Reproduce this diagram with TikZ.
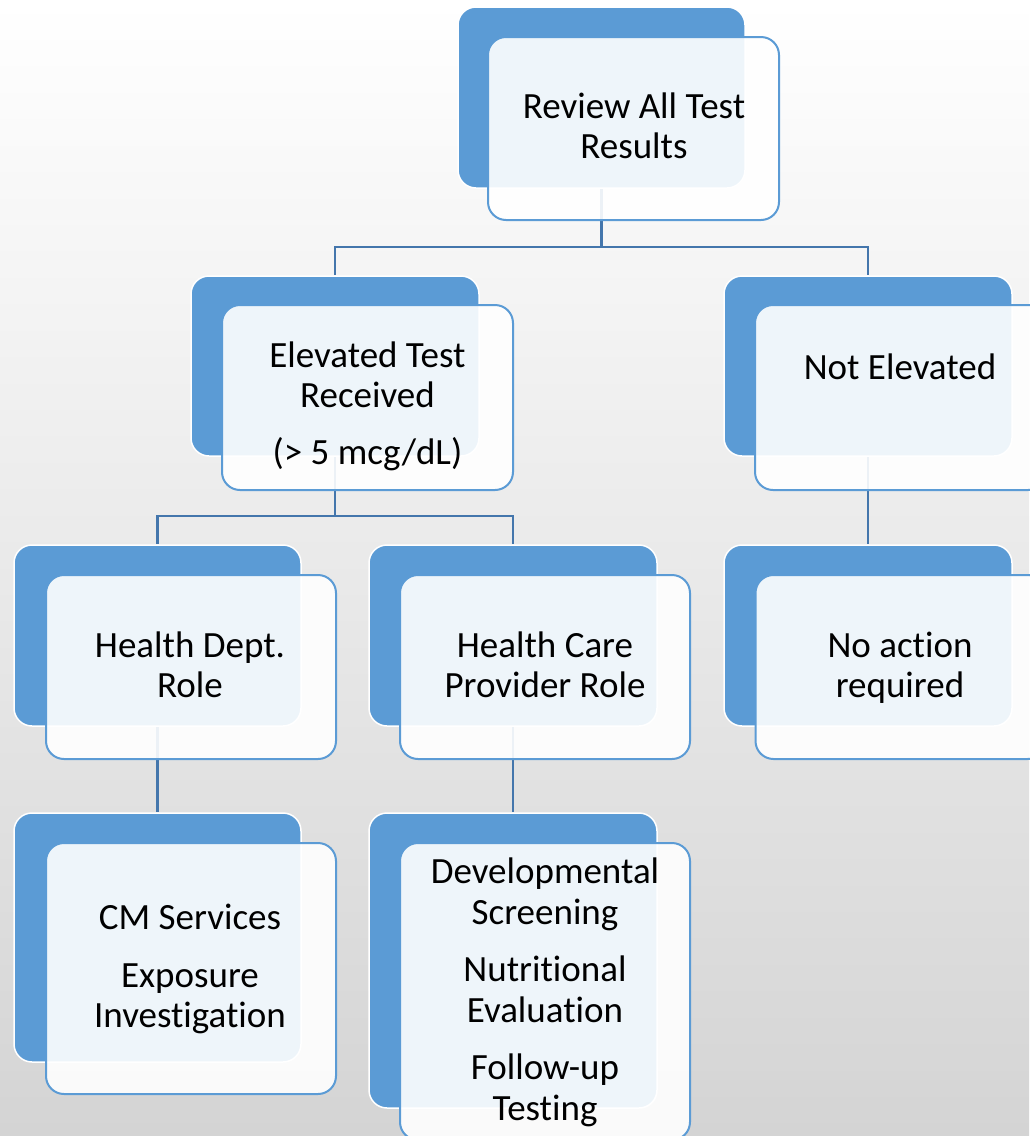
\documentclass[tikz,border=0pt]{standalone}
\usepackage{fontspec}
\setmainfont{Carlito}[Ligatures=NoCommon]
\definecolor{accent}{RGB}{91,155,213}
\definecolor{connc}{RGB}{68,118,172}
\definecolor{bgbot}{RGB}{212,212,212}
\pgfdeclarelayer{shadelayer}
\pgfdeclarelayer{connlayer}
\pgfsetlayers{shadelayer,connlayer,main}
\begin{document}
\begin{tikzpicture}[x=1pt,y=-1pt,
  backbox/.style={draw=white, line width=1.5pt, fill=accent, rounded corners=18pt, inner sep=0pt},
  frontbox/.style={draw=accent, line width=2pt, fill=white, fill opacity=0.9, rounded corners=18pt, inner sep=0pt},
  conn/.style={draw=connc, line width=2.2pt},
  txt/.style={font=\fontsize{37}{40.5}\selectfont, anchor=base, inner sep=0pt, text=black}]
\useasboundingbox (0,0) rectangle (1029,1136);
\begin{pgfonlayer}{shadelayer}
\shade[top color=white, bottom color=bgbot] (0,0) rectangle (1029,1136);
\end{pgfonlayer}

% back boxes
\node[backbox, minimum width=287pt, minimum height=181pt] (rootB) at (601.5,97.5) {};
\node[backbox, minimum width=288pt, minimum height=180pt] (elevB) at (335,366) {};
\node[backbox, minimum width=288pt, minimum height=180pt] (notB) at (868,366) {};
\node[backbox, minimum width=287pt, minimum height=181pt] (hdB) at (157.5,635.5) {};
\node[backbox, minimum width=288pt, minimum height=181pt] (hcpB) at (513,635.5) {};
\node[backbox, minimum width=288pt, minimum height=181pt] (noaB) at (868,635.5) {};
\node[backbox, minimum width=287pt, minimum height=249pt] (cmB) at (157.5,937.5) {};
\node[backbox, minimum width=288pt, minimum height=295pt] (devB) at (513,960.5) {};

% connectors
\begin{pgfonlayer}{connlayer}
\draw[conn] (rootB.south) -- ++(0,58) -| (elevB.north);
\draw[conn] (rootB.south) -- ++(0,58) -| (notB.north);
\draw[conn] (elevB.south) -- ++(0,59) -| (hdB.north);
\draw[conn] (elevB.south) -- ++(0,59) -| (hcpB.north);
\draw[conn] (notB.south) -- (noaB.north);
\draw[conn] (hdB.south) -- (cmB.north);
\draw[conn] (hcpB.south) -- (devB.north);
\end{pgfonlayer}

% front boxes
\node[frontbox, minimum width=291pt, minimum height=183pt] (rootF) at (633.5,128.5) {};
\node[frontbox, minimum width=291pt, minimum height=185pt] (elevF) at (367.5,397.5) {};
\node[frontbox, minimum width=291pt, minimum height=185pt] (notF) at (900.5,397.5) {};
\node[frontbox, minimum width=290pt, minimum height=184pt] (hdF) at (191,667) {};
\node[frontbox, minimum width=290pt, minimum height=184pt] (hcpF) at (545,667) {};
\node[frontbox, minimum width=290pt, minimum height=184pt] (noaF) at (900.5,667) {};
\node[frontbox, minimum width=290pt, minimum height=251pt] (cmF) at (191,968.5) {};
\node[frontbox, minimum width=290pt, minimum height=297pt] (devF) at (545,991.5) {};

% texts
\node[txt] (rootT) at (634,118) {\begin{tabular}[t]{@{}c@{}}Review All Test\\Results\end{tabular}};
\node[txt] (elevT) at (367.5,367) {\begin{tabular}[t]{@{}c@{}}Elevated Test\\Received\\[16pt](> 5 mcg/dL)\end{tabular}};
\node[txt] (notT) at (900,379.5) {Not Elevated};
\node[txt] (hdT) at (190,657) {\begin{tabular}[t]{@{}c@{}}Health Dept.\\Role\end{tabular}};
\node[txt] (hcpT) at (545,657) {\begin{tabular}[t]{@{}c@{}}Health Care\\Provider Role\end{tabular}};
\node[txt] (noaT) at (900,657) {\begin{tabular}[t]{@{}c@{}}No action\\required\end{tabular}};
\node[txt] (cmT) at (190,929.5) {\begin{tabular}[t]{@{}c@{}}CM Services\\[17pt]Exposure\\Investigation\end{tabular}};
\node[txt] (devT) at (545,883.5) {\begin{tabular}[t]{@{}c@{}}Developmental\\Screening\\[17pt]Nutritional\\Evaluation\\[17pt]Follow-up\\Testing\end{tabular}};
\end{tikzpicture}
\end{document}
